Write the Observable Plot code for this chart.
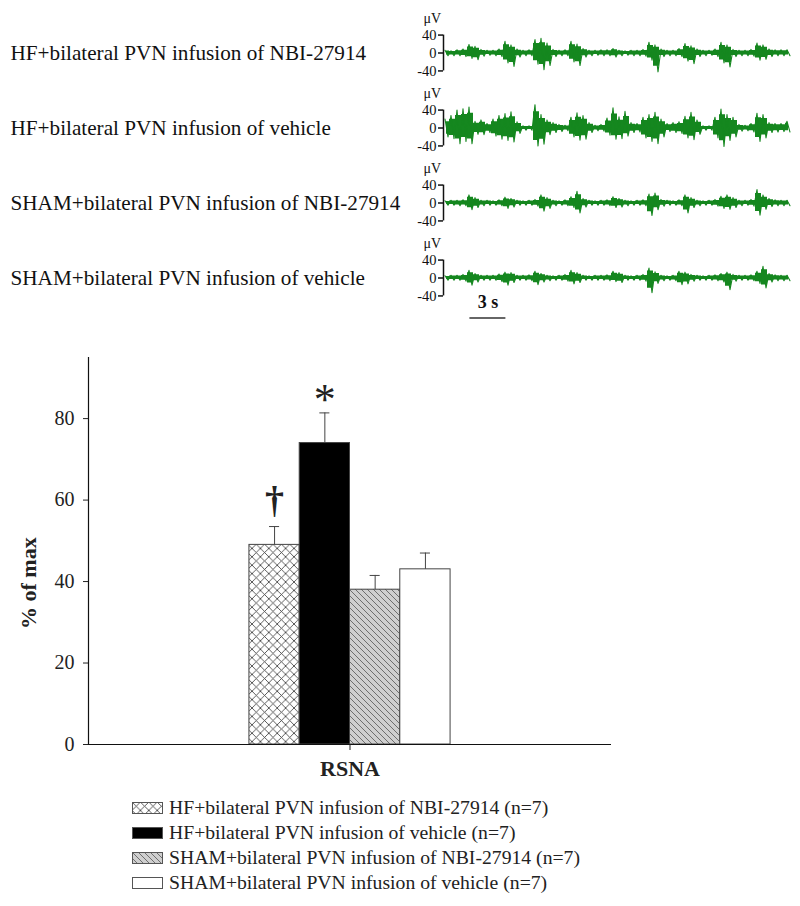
<!DOCTYPE html>
<html>
<head>
<meta charset="utf-8">
<script src="https://cdn.jsdelivr.net/npm/d3@7"></script>
<script src="https://cdn.jsdelivr.net/npm/@observablehq/plot@0.6"></script>
<style>
  html, body { margin: 0; padding: 0; background: #fff; }
  #wrap { width: 800px; font-family: "Liberation Serif", "Times New Roman", serif; color: #222; }
  #legend { padding: 3px 0 0 132px; font-size: 19.7px; }
  .row { display: flex; align-items: center; height: 25px; }
  .row svg { margin-right: 6px; }
  svg { display: block; }
</style>
</head>
<body>
<svg width="0" height="0" style="position:absolute">
  <defs>
    <pattern id="xhatch" patternUnits="userSpaceOnUse" width="8.4" height="8.4">
      <rect width="8.4" height="8.4" fill="#fff"></rect>
      <path d="M0,0L8.4,8.4M8.4,0L0,8.4" stroke="#333" stroke-width="0.8"></path>
    </pattern>
    <pattern id="dhatch" patternUnits="userSpaceOnUse" width="6" height="6">
      <rect width="6" height="6" fill="#cfcfcf"></rect>
      <path d="M0,0L6,6M-1,5L1,7M5,-1L7,1" stroke="#444" stroke-width="0.7"></path>
    </pattern>
  </defs>
</svg>
<div id="wrap">
  <div id="top"></div>
  <div id="bars"></div>
  <div id="legend"></div>
</div>
<script>
// ---------- Data ----------
const traceLabels = [
  "HF+bilateral PVN infusion of NBI-27914",
  "HF+bilateral PVN infusion of vehicle",
  "SHAM+bilateral PVN infusion of NBI-27914",
  "SHAM+bilateral PVN infusion of vehicle"
];
const binSeconds = 0.5;            // each envelope value covers 0.5 s
const traceDuration = 28.75;       // seconds shown
const traceTicks = [-40, 0, 40];   // µV
// peak (hi) and trough (lo) amplitude in µV for each 0.5 s bin
const hi1 = [6,5,7,9,19,15,8,6,6,9, 26,18,9,6,7,30,33,22,8,6, 7,26,20,10,6,6,7,7,10,6, 5,6,6,8,24,18,9,6,6,10, 21,16,9,6,6,9,24,18,8,6, 6,8,22,18,9,7,7,7];
const lo1 = [-6,-6,-6,-8,-12,-15,-7,-5,-6,-8, -22,-30,-9,-6,-6,-25,-37,-28,-8,-6, -6,-20,-28,-9,-6,-5,-6,-6,-9,-6, -5,-6,-6,-7,-16,-42,-8,-6,-6,-8, -18,-24,-8,-6,-5,-8,-22,-31,-8,-6, -6,-7,-16,-14,-8,-6,-6,-6];
const hi2 = [20,28,40,43,47,15,18,10,20,28, 32,36,14,5,5,52,30,18,12,8, 6,24,34,28,12,6,8,22,45,25, 37,12,10,24,30,35,20,10,12,14, 26,35,18,5,5,24,42,30,24,8, 6,10,33,30,12,10,10,15];
const lo2 = [-20,-24,-35,-30,-35,-14,-15,-10,-18,-25, -28,-31,-12,-5,-5,-40,-36,-15,-10,-8, -6,-20,-27,-25,-10,-6,-7,-16,-25,-24, -18,-10,-9,-22,-30,-35,-20,-8,-10,-12, -22,-26,-14,-5,-5,-22,-41,-28,-20,-7, -6,-9,-30,-22,-10,-9,-8,-9];
const hi3 = [5,6,6,7,18,12,6,6,5,7, 13,10,6,5,6,8,18,12,6,5, 7,14,26,10,6,5,6,7,14,10, 6,5,6,7,20,22,8,6,5,7, 18,12,6,5,6,8,15,18,12,6, 6,8,30,18,10,7,6,6];
const lo3 = [-5,-5,-6,-6,-15,-10,-6,-5,-5,-6, -12,-9,-5,-5,-5,-7,-18,-12,-6,-5, -6,-10,-22,-9,-5,-5,-5,-6,-10,-9, -6,-5,-5,-6,-28,-15,-7,-5,-5,-6, -22,-10,-6,-5,-5,-7,-12,-14,-10,-6, -5,-7,-27,-14,-8,-6,-6,-6];
const hi4 = [5,6,6,8,17,10,6,6,6,9, 13,12,6,6,7,15,10,6,5,6, 8,17,12,6,5,6,6,7,15,12, 6,5,6,8,22,14,6,5,6,15, 13,8,6,5,6,7,10,13,8,6, 6,7,15,26,10,7,6,6];
const lo4 = [-5,-5,-5,-7,-16,-9,-5,-5,-5,-8, -16,-10,-5,-5,-6,-15,-9,-6,-5,-5, -7,-13,-10,-5,-5,-5,-5,-6,-8,-10, -5,-5,-5,-7,-33,-12,-6,-5,-6,-15, -13,-7,-5,-5,-5,-6,-9,-26,-7,-5, -5,-6,-12,-22,-9,-6,-6,-6];
const scaleBarStart = 2.2, scaleBarSeconds = 3, scaleBarLabel = "3 s";

const groups = [
  "HF+bilateral PVN infusion of NBI-27914",
  "HF+bilateral PVN infusion of vehicle",
  "SHAM+bilateral PVN infusion of NBI-27914",
  "SHAM+bilateral PVN infusion of vehicle"
];
const means = [49, 74, 38, 43];           // % of max
const sems = [4.5, 7.4, 3.5, 4.0];
const nAnimals = [7, 7, 7, 7];
const sigMarks = ["†", "*", "", ""];
const groupFills = ["url(#xhatch)", "#000000", "url(#dhatch)", "#ffffff"];
const category = "RSNA";
const yTicks = [0, 20, 40, 60, 80];
const yMax = 95;

// ---------- Traces ----------
const FONT = '"Liberation Serif", "Times New Roman", serif';
const GREEN = "#15871f";
const CORE = 0.7;   // share of the envelope drawn as a solid band under the spikes
const his = [hi1, hi2, hi3, hi4], los = [lo1, lo2, lo3, lo4];
const bins = [];
const spikes = [];
traceLabels.forEach((lab, j) => {
  his[j].forEach((h, k) => {
    const t0 = k * binSeconds;
    bins.push({trace: lab, t: t0 + binSeconds / 2, hi: h, lo: los[j][k]});
    spikes.push({trace: lab, t: t0 + binSeconds / 4, v: h});
    spikes.push({trace: lab, t: t0 + 3 * binSeconds / 4, v: los[j][k]});
  });
});
const Y_HALF = 83.65;
const scaleBar = [{trace: traceLabels[3], x1: scaleBarStart, x2: scaleBarStart + scaleBarSeconds, label: scaleBarLabel}];

const traceChart = Plot.plot({
  width: 800, height: 330,
  marginLeft: 443, marginRight: 12, marginTop: 14, marginBottom: 15,
  style: {fontFamily: FONT, color: "#111", background: "white"},
  x: {domain: [0, traceDuration], axis: null},
  y: {domain: [-Y_HALF, Y_HALF], axis: null},
  fy: {domain: traceLabels, padding: 0, axis: null},
  marks: [
    Plot.areaY(bins, {x: "t", y1: d => d.lo * CORE, y2: d => d.hi * CORE, fy: "trace", fill: GREEN, curve: "step"}),
    Plot.line(spikes, {x: "t", y: "v", fy: "trace", stroke: GREEN, strokeWidth: 1.1}),
    Plot.ruleX(traceLabels, {fy: d => d, x: () => 0, y1: () => d3.min(traceTicks), y2: () => d3.max(traceTicks), stroke: "#111", strokeWidth: 1.5}),
    Plot.axisY({ticks: traceTicks, tickSize: 5, tickPadding: 2, fontSize: 14.5, tickFormat: d => String(d), label: null, strokeWidth: 1.5, color: "#111"}),
    Plot.text(traceLabels, {fy: d => d, text: () => "μV", frameAnchor: "top-left", dx: -20, dy: 3, lineAnchor: "middle", fontSize: 14, fill: "#111"}),
    Plot.text(traceLabels, {fy: d => d, text: d => d, frameAnchor: "left", textAnchor: "start", dx: -433, fontSize: 21.2, fill: "#111"}),
    Plot.ruleY(scaleBar, {fy: "trace", x1: "x1", x2: "x2", y: () => -Y_HALF, dy: 2.5, stroke: "#666", strokeWidth: 2}),
    Plot.text(scaleBar, {fy: "trace", x: d => (d.x1 + d.x2) / 2, y: () => -Y_HALF, text: "label", dy: -13, fontSize: 18, fontWeight: "bold", fill: "#111"})
  ]
});
document.getElementById("top").appendChild(traceChart);

// ---------- Bar chart ----------
const data = groups.map((g, i) => ({g, i, mean: means[i], sem: sems[i], fill: groupFills[i], mark: sigMarks[i]}));
const center = groups.length / 2;
const halfSpan = 5.2;

const barChart = Plot.plot({
  width: 800, height: 462,
  marginLeft: 88, marginRight: 189, marginTop: 27, marginBottom: 48,
  style: {fontFamily: FONT, color: "#222", background: "white", overflow: "visible"},
  x: {domain: [center - halfSpan, center + halfSpan], axis: null},
  y: {domain: [0, yMax], axis: null},
  color: {type: "identity"},
  marks: [
    Plot.rectY(data, {x1: "i", x2: d => d.i + 1, y: "mean", fill: "fill", stroke: "#444", strokeWidth: 1}),
    Plot.ruleX(data, {x: d => d.i + 0.5, y1: "mean", y2: d => d.mean + d.sem, stroke: "#444", strokeWidth: 1}),
    Plot.ruleY(data, {x1: d => d.i + 0.4, x2: d => d.i + 0.6, y: d => d.mean + d.sem, stroke: "#444", strokeWidth: 1}),
    Plot.text(data.filter(d => d.mark === "†"), {x: d => d.i + 0.5, y: d => d.mean + d.sem, text: "mark", lineAnchor: "bottom", dy: -14, fontSize: 38, fontWeight: "bold"}),
    Plot.text(data.filter(d => d.mark === "*"), {x: d => d.i + 0.5, y: d => d.mean + d.sem, text: "mark", lineAnchor: "bottom", dy: 1, fontSize: 44}),
    Plot.ruleY([0], {stroke: "#111", strokeWidth: 1.2}),
    Plot.ruleX([center - halfSpan], {stroke: "#111", strokeWidth: 1.2}),
    Plot.axisY({ticks: yTicks, tickSize: 5, tickPadding: 9, fontSize: 20, label: null}),
    Plot.axisX({ticks: [center], tickFormat: () => category, tickSize: 6, tickPadding: 10, fontSize: 22, fontWeight: "bold", label: null}),
    Plot.text(["% of max"], {frameAnchor: "left", rotate: -90, dx: -60, dy: 78, fontSize: 22, fontWeight: "bold"})
  ]
});
document.getElementById("bars").appendChild(barChart);

// ---------- Legend ----------
const legend = document.getElementById("legend");
groups.forEach((g, i) => {
  const row = document.createElement("div");
  row.className = "row";
  row.innerHTML = `<svg width="31" height="12"><rect x="0.5" y="0.5" width="30" height="11" fill="${groupFills[i]}" stroke="#555" stroke-width="1"></rect></svg><span>${g} (n=${nAnimals[i]})</span>`;
  legend.appendChild(row);
});
</script>
</body>
</html>
